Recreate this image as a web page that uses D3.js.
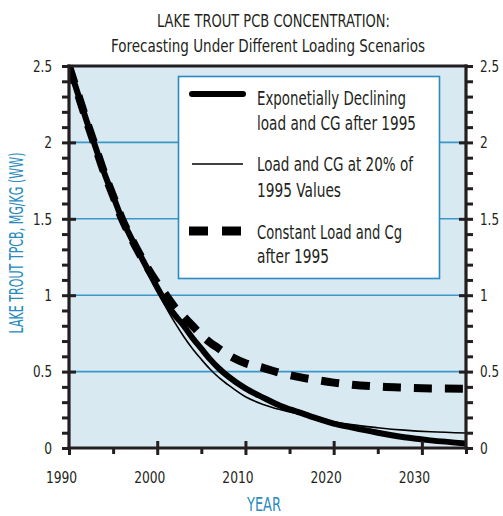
<!DOCTYPE html>
<html><head><meta charset="utf-8">
<script src="https://cdn.jsdelivr.net/npm/d3@7"></script>
<style>
html,body{margin:0;padding:0;background:#fff;}
svg{display:block;}
text{font-family:"Liberation Sans Narrow","Arial Narrow","DejaVu Sans Condensed","DejaVu Sans",sans-serif;font-stretch:condensed;fill:#231f20;}
</style></head>
<body>
<script>
// ---- data ----
const years = [1990,1991,1992,1993,1994,1995,1996,1997,1998,1999,2000,2001,2002,2003,2004,2005,2006,2007,2008,2010,2012,2014,2016,2018,2020,2022,2025,2028,2031,2035];
const expDecline = [2.5,2.32,2.14,1.97,1.80,1.65,1.50,1.38,1.27,1.16,1.05,0.95,0.87,0.80,0.72,0.65,0.58,0.52,0.47,0.39,0.33,0.275,0.235,0.195,0.16,0.135,0.10,0.07,0.05,0.03];
const load20 = [2.5,2.32,2.14,1.97,1.80,1.65,1.50,1.38,1.27,1.16,1.04,0.92,0.82,0.73,0.65,0.58,0.515,0.46,0.415,0.335,0.285,0.25,0.222,0.197,0.172,0.153,0.133,0.117,0.106,0.098];
const constLoad = [2.5,2.32,2.14,1.97,1.80,1.65,1.50,1.38,1.27,1.17,1.08,1.0,0.92,0.86,0.80,0.74,0.69,0.65,0.61,0.555,0.525,0.49,0.465,0.445,0.428,0.415,0.402,0.395,0.39,0.388];
const yMajor = [0,0.5,1,1.5,2,2.5];
const yMinor = [0.1,0.2,0.3,0.4,0.6,0.7,0.8,0.9,1.1,1.2,1.3,1.4,1.6,1.7,1.8,1.9,2.1,2.2,2.3,2.4];
const xMajor = [1990,2000,2010,2020,2030];
const xMinor = [1995,2005,2015,2025,2035];
const titleLines = ["LAKE TROUT PCB CONCENTRATION:","Forecasting Under Different Loading Scenarios"];
const legendItems = [
  {lines:["Exponetially Declining","load and CG after 1995"], key:"exp"},
  {lines:["Load and CG at 20% of","1995 Values"], key:"l20"},
  {lines:["Constant Load and Cg","after 1995"], key:"const"}
];

const W=503,H=516;
const L=69,R=466,T=66,B=448;
const dark="#231f20", blue="#2a8bc0", grid="#3a98c8", bg="#d9e9f2";

const svg=d3.select("body").append("svg").attr("width",W).attr("height",H);
const x=d3.scaleLinear().domain([1990,2035]).range([L,R]);
const y=d3.scaleLinear().domain([0,2.5]).range([B,T]);

// background
svg.append("rect").attr("x",L).attr("y",T).attr("width",R-L).attr("height",B-T).attr("fill",bg);

// gridlines
svg.append("g").selectAll("line").data([0.5,1,1.5,2]).join("line")
  .attr("x1",L).attr("x2",R).attr("y1",d=>y(d)).attr("y2",d=>y(d))
  .attr("stroke",grid).attr("stroke-width",1.6);

// legend box
const lg=svg.append("g");
lg.append("rect").attr("x",178.5).attr("y",76.5).attr("width",261).attr("height",202)
  .attr("fill","#fff").attr("stroke",blue).attr("stroke-width",1.6);

// curves
svg.append("clipPath").attr("id","pc").append("rect").attr("x",L).attr("y",T-4).attr("width",R-L).attr("height",B-T+4);
const line=d3.line().curve(d3.curveMonotoneX);
const cg=svg.append("g").attr("clip-path","url(#pc)");
const mk=vals=>years.map((yr,i)=>[x(yr),y(vals[i])]);
cg.append("path").attr("d",line(mk(constLoad))).attr("fill","none").attr("stroke","#000")
  .attr("stroke-width",8).attr("stroke-dasharray","18,13");
cg.append("path").attr("d",line(mk(expDecline))).attr("fill","none").attr("stroke","#000")
  .attr("stroke-width",6).attr("stroke-linejoin","round");
cg.append("path").attr("d",line(mk(load20))).attr("fill","none").attr("stroke","#000")
  .attr("stroke-width",1.6);

// legend keys and text
const keyY=[94,164,231];
const textBase=[[105,130],[171,197],[239,263]];
const textW=[[149,159],[156,84],[145,72]];
lg.append("line").attr("x1",192).attr("x2",243).attr("y1",keyY[0]).attr("y2",keyY[0])
  .attr("stroke","#000").attr("stroke-width",6).attr("stroke-linecap","round");
lg.append("line").attr("x1",192).attr("x2",243).attr("y1",keyY[1]).attr("y2",keyY[1])
  .attr("stroke","#000").attr("stroke-width",1.6);
lg.append("line").attr("x1",189).attr("x2",241).attr("y1",keyY[2]).attr("y2",keyY[2])
  .attr("stroke","#000").attr("stroke-width",9).attr("stroke-dasharray","19,14");
legendItems.forEach((it,i)=>{
  it.lines.forEach((t,j)=>{
    lg.append("text").attr("x",257).attr("y",textBase[i][j]).attr("font-size",19)
      .attr("textLength",textW[i][j]).attr("lengthAdjust","spacingAndGlyphs").text(t);
  });
});

// axes
const labW=s=>{let w=0;for(const c of s)w+=(c==="."?3.4:7.8);return w;};
function styleAxis(g){g.select(".domain").remove();g.selectAll("line").attr("stroke",dark).attr("stroke-width",3);
  g.selectAll("text").attr("font-size",16.5).attr("fill",dark).attr("font-family",null)
   .each(function(){const t=this.textContent;if(t){d3.select(this).attr("textLength",labW(t)).attr("lengthAdjust","spacingAndGlyphs");}});}
// left
svg.append("g").attr("transform",`translate(${L},0)`).call(d3.axisLeft(y).tickValues(yMinor).tickSize(7).tickFormat("")).call(styleAxis);
svg.append("g").attr("transform",`translate(${L},0)`).call(d3.axisLeft(y).tickValues(yMajor).tickSize(7).tickPadding(10).tickFormat(d3.format("~g"))).call(styleAxis);
svg.append("g").attr("transform",`translate(${L},0)`).call(d3.axisRight(y).tickValues(yMajor.slice(1,5)).tickSize(7).tickFormat("")).call(styleAxis);
// right
svg.append("g").attr("transform",`translate(${R},0)`).call(d3.axisRight(y).tickValues(yMinor).tickSize(7).tickFormat("")).call(styleAxis);
svg.append("g").attr("transform",`translate(${R},0)`).call(d3.axisRight(y).tickValues(yMajor).tickSize(7).tickPadding(7).tickFormat(d3.format("~g"))).call(styleAxis);
svg.append("g").attr("transform",`translate(${R},0)`).call(d3.axisLeft(y).tickValues(yMajor.slice(1,5)).tickSize(7).tickFormat("")).call(styleAxis);
// bottom
svg.append("g").attr("transform",`translate(0,${B})`).call(d3.axisBottom(x).tickValues(xMinor).tickSize(6).tickFormat("")).call(styleAxis);
const xb=svg.append("g").attr("transform",`translate(0,${B})`).call(d3.axisBottom(x).tickValues(xMajor).tickSize(7).tickFormat(d3.format("d"))).call(styleAxis);
xb.selectAll("text").attr("y",35).attr("dy",null).attr("x",-8);
svg.append("g").attr("transform",`translate(0,${B})`).call(d3.axisTop(x).tickValues(xMajor.slice(1)).tickSize(7).tickFormat("")).call(styleAxis);

// frame
const fr=svg.append("g").attr("stroke",dark).attr("stroke-width",3.2).attr("stroke-linecap","square");
fr.append("line").attr("x1",L).attr("x2",R).attr("y1",T).attr("y2",T);
fr.append("line").attr("x1",L).attr("x2",R).attr("y1",B).attr("y2",B);
fr.append("line").attr("x1",L).attr("x2",L).attr("y1",T).attr("y2",B);
fr.append("line").attr("x1",R).attr("x2",R).attr("y1",T).attr("y2",B);

// titles
svg.append("text").attr("x",273.5).attr("y",27).attr("text-anchor","middle").attr("font-size",17.5)
  .attr("textLength",233).attr("lengthAdjust","spacingAndGlyphs").text(titleLines[0]);
svg.append("text").attr("x",268).attr("y",51.5).attr("text-anchor","middle").attr("font-size",18)
  .attr("textLength",314).attr("lengthAdjust","spacingAndGlyphs").text(titleLines[1]);
svg.append("text").attr("x",264).attr("y",511).attr("text-anchor","middle").attr("font-size",19)
  .style("fill",blue).attr("textLength",34).attr("lengthAdjust","spacingAndGlyphs").text("YEAR");
svg.append("text").attr("transform","translate(23,243) rotate(-90)").attr("text-anchor","middle")
  .attr("font-size",20).style("fill",blue).attr("textLength",181).attr("lengthAdjust","spacingAndGlyphs")
  .text("LAKE TROUT TPCB, MG/KG (WW)");
</script>
</body></html>
